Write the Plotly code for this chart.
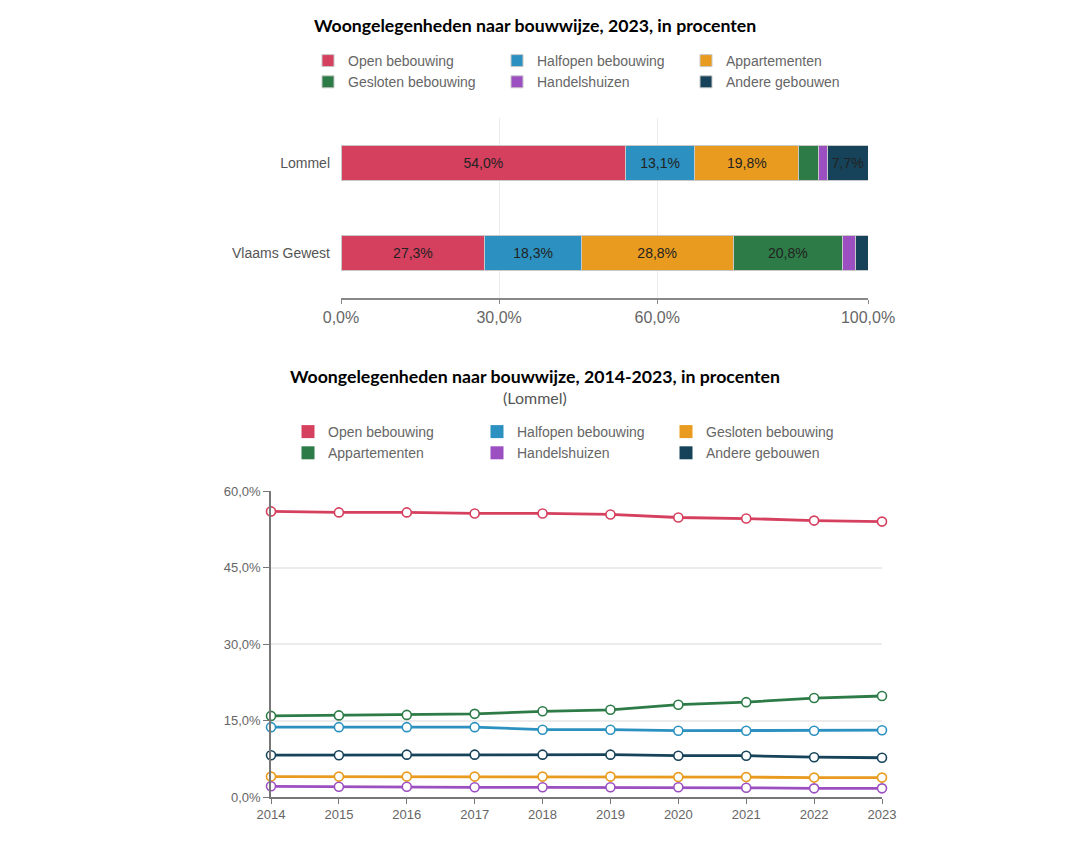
import plotly.graph_objects as go

# ---------------- data ----------------
regions = ["Lommel", "Vlaams Gewest"]
bar_categories = ["Open bebouwing", "Halfopen bebouwing", "Appartementen",
                  "Gesloten bebouwing", "Handelshuizen", "Andere gebouwen"]
bar_open = [54.0, 27.3]
bar_halfopen = [13.1, 18.3]
bar_appartementen = [19.8, 28.8]
bar_gesloten = [3.7, 20.8]
bar_handelshuizen = [1.7, 2.4]
bar_andere = [7.7, 2.4]
bar_ticks = [0, 30, 60, 100]

years = [2014, 2015, 2016, 2017, 2018, 2019, 2020, 2021, 2022, 2023]
line_categories = ["Open bebouwing", "Halfopen bebouwing", "Gesloten bebouwing",
                   "Appartementen", "Handelshuizen", "Andere gebouwen"]
line_open = [56.0, 55.8, 55.8, 55.6, 55.6, 55.4, 54.8, 54.6, 54.2, 54.0]
line_halfopen = [13.7, 13.7, 13.7, 13.7, 13.2, 13.2, 13.0, 13.0, 13.0, 13.1]
line_gesloten = [4.0, 4.0, 4.0, 4.0, 4.0, 4.0, 3.9, 3.9, 3.8, 3.8]
line_appartementen = [15.9, 16.0, 16.1, 16.3, 16.8, 17.1, 18.1, 18.6, 19.4, 19.8]
line_handelshuizen = [2.1, 2.0, 2.0, 1.9, 1.9, 1.9, 1.9, 1.8, 1.7, 1.7]
line_andere = [8.2, 8.2, 8.3, 8.3, 8.3, 8.3, 8.1, 8.1, 7.8, 7.7]
line_ticks = [0, 15, 30, 45, 60]

# ---------------- styles ----------------
bar_colors = ["#D6405F", "#2C91C0", "#E89B1F", "#2D7B47", "#9B4FC1", "#16435A"]
line_colors = ["#D6405F", "#2C91C0", "#E89B1F", "#2D7B47", "#9B4FC1", "#16435A"]
TXT = "Liberation Sans, Arial, sans-serif"
TITLE = "Lato, sans-serif"

OFF = 8  # page body margin
W, H = 1079 - 2 * OFF, 845 - 2 * OFF


def fx(p):  # reference pixel -> figure pixel
    return p - OFF


L, R, T, B = fx(271), W - fx(882), fx(118), H - fx(797)
PW, PH = W - L - R, H - T - B


def px_x(p):
    return (fx(p) - L) / PW


def px_y(p):
    return (H - B - fx(p)) / PH


def fmt(v):
    return f"{v:.1f}%".replace(".", ",")


fig = go.Figure()

bar_series = [bar_open, bar_halfopen, bar_appartementen, bar_gesloten,
              bar_handelshuizen, bar_andere]
for name, vals, col in zip(bar_categories, bar_series, bar_colors):
    fig.add_trace(go.Bar(
        y=regions, x=vals, name=name, orientation="h",
        marker=dict(color=col, line=dict(color="#c8c8c8", width=1)),
        text=[fmt(v) if v >= 5 else "" for v in vals],
        textposition="inside", insidetextanchor="middle",
        textfont=dict(family=TXT, size=14, color="#222"),
        hovertemplate="%{y}: %{x:.1f}%<extra>" + name + "</extra>",
        xaxis="x", yaxis="y", legend="legend",
    ))

line_series = [line_open, line_halfopen, line_gesloten, line_appartementen,
               line_handelshuizen, line_andere]
for name, vals, col in zip(line_categories, line_series, line_colors):
    fig.add_trace(go.Scatter(
        x=years, y=vals, name=name, mode="lines+markers",
        line=dict(color=col, width=2.8),
        marker=dict(size=9, color="white", line=dict(color=col, width=1.6)),
        cliponaxis=False, showlegend=False, legendgroup=name,
        hovertemplate="%{x}: %{y:.1f}%<extra>" + name + "</extra>",
        xaxis="x2", yaxis="y2",
    ))
for name, col in zip(line_categories, line_colors):
    fig.add_trace(go.Scatter(
        x=[None], y=[None], name=name, mode="markers",
        marker=dict(symbol="square", size=13, color=col),
        legendgroup=name, legend="legend2", xaxis="x2", yaxis="y2",
    ))

legend_common = dict(
    orientation="h", xanchor="left", yanchor="top", traceorder="normal",
    font=dict(family=TXT, size=14, color="#666"),
    entrywidth=144, tracegroupgap=0, bgcolor="rgba(0,0,0,0)",
    xref="container", yref="container",
)

fig.update_layout(
    width=W, height=H,
    margin=dict(l=L, r=R, t=T, b=B, autoexpand=False),
    paper_bgcolor="white", plot_bgcolor="white",
    separators=",.",
    barmode="stack", bargap=0.62,
    xaxis=dict(domain=[px_x(341), px_x(868)], range=[0, 100], anchor="y",
               tickvals=bar_ticks, ticktext=[fmt(v) for v in bar_ticks],
               showgrid=True, gridcolor="#ebebeb", gridwidth=1,
               showline=True, linecolor="#888", linewidth=1.5,
               ticks="outside", ticklen=4, tickcolor="#888",
               tickfont=dict(family=TXT, size=16, color="#666"),
               zeroline=False, fixedrange=True),
    yaxis=dict(domain=[px_y(298), 1], anchor="x", autorange="reversed",
               categoryorder="array", categoryarray=regions,
               showgrid=False, showline=False, ticks="",
               ticklabelstandoff=10,
               tickfont=dict(family=TXT, size=14, color="#555"),
               fixedrange=True),
    xaxis2=dict(domain=[0, 1], range=[2014, 2023], anchor="y2",
                tickvals=years, showgrid=False, zeroline=False,
                showline=True, linecolor="#777", linewidth=1.5,
                ticks="outside", ticklen=5, tickcolor="#777",
                tickfont=dict(family=TXT, size=13, color="#666"),
                fixedrange=True),
    yaxis2=dict(domain=[0, px_y(491)], range=[0, 60], anchor="x2",
                tickvals=line_ticks, ticktext=[fmt(v) for v in line_ticks],
                showgrid=True, gridcolor="#ececec", gridwidth=1.5,
                showline=True, linecolor="#777", linewidth=1.5,
                ticks="outside", ticklen=6, tickcolor="#777",
                tickfont=dict(family=TXT, size=13, color="#666"),
                zeroline=False, fixedrange=True),
    legend=dict(x=fx(308) / W, y=1 - fx(45) / H, **legend_common),
    legend2=dict(x=fx(288) / W, y=1 - fx(416) / H, **legend_common),
    annotations=[
        dict(text="Woongelegenheden naar bouwwijze, 2023, in procenten",
             x=px_x(535), y=px_y(25), xref="paper", yref="paper",
             xanchor="center", yanchor="middle", showarrow=False,
             font=dict(family=TITLE, size=17.7, color="#000", weight="bold")),
        dict(text="Woongelegenheden naar bouwwijze, 2014-2023, in procenten",
             x=px_x(535), y=px_y(376), xref="paper", yref="paper",
             xanchor="center", yanchor="middle", showarrow=False,
             font=dict(family=TITLE, size=17.7, color="#000", weight="bold")),
        dict(text="(Lommel)",
             x=px_x(535), y=px_y(397), xref="paper", yref="paper",
             xanchor="center", yanchor="middle", showarrow=False,
             font=dict(family=TITLE, size=16, color="#555")),
    ],
)

fig.write_html("out.html")
